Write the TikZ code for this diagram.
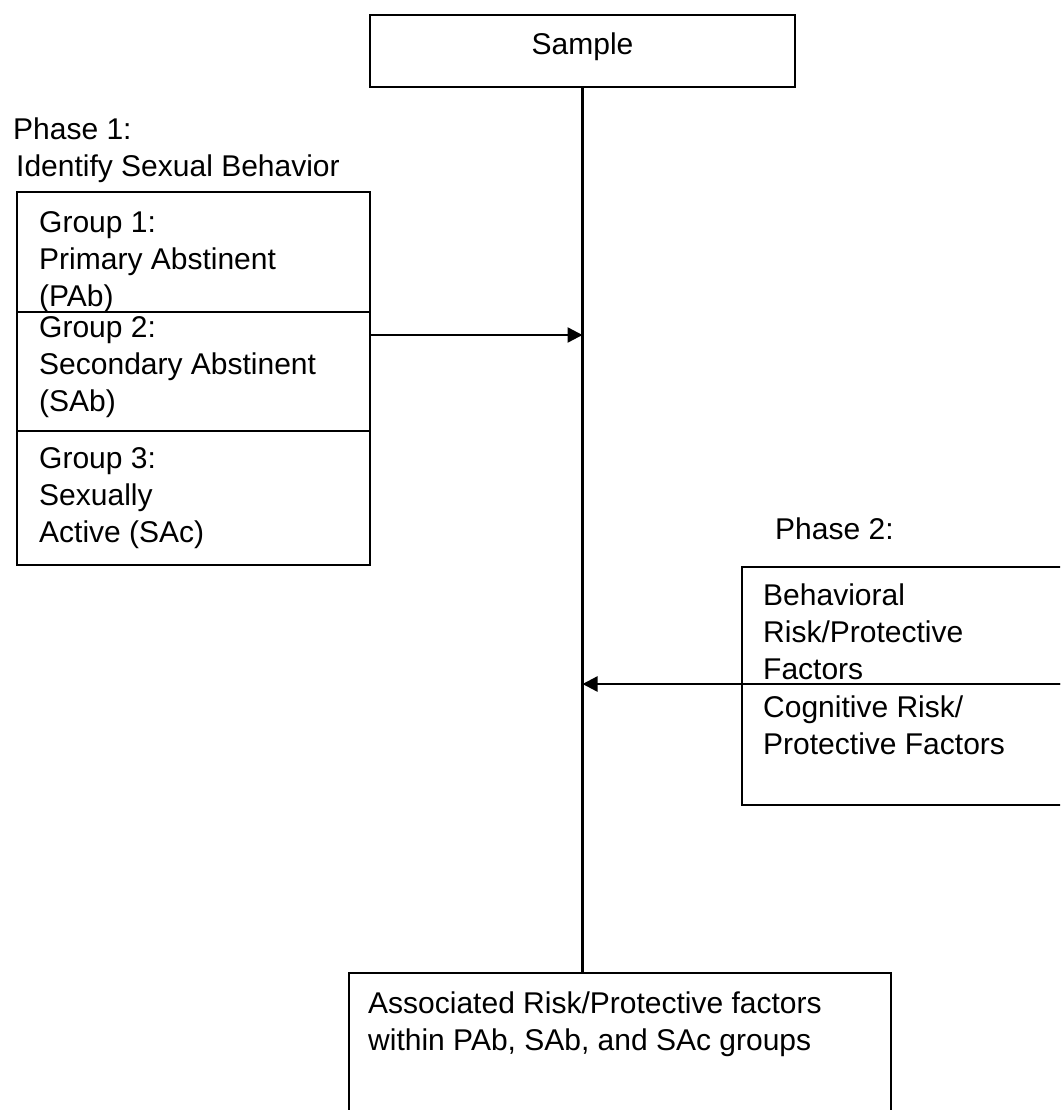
\documentclass[tikz,border=0pt]{standalone}
\usepackage{fontspec}
\setmainfont{Liberation Sans}
\usetikzlibrary{arrows.meta}
\newcommand\stacklines[1]{\begin{tabular}[t]{@{}l@{}}#1\end{tabular}}
\begin{document}
\begin{tikzpicture}[x=1pt,y=-1pt,
  box/.style={draw, line width=2.4pt, rectangle, inner sep=0pt, outer sep=0pt, anchor=north west},
  txt/.style={anchor=base west, inner sep=0pt, font=\fontsize{30}{37}\selectfont},
  conn/.style={line width=2.4pt},
  arr/.style={conn, -{Triangle[length=15pt,width=15pt]}}]
\clip (0,0) rectangle (1060,1110);
\fill[white] (0,0) rectangle (1060,1110);

% Sample
\node[box, minimum width=425, minimum height=72, font=\fontsize{30}{37}\selectfont,
      text height=21.5pt, text depth=14pt] (sample) at (370,15) {Sample};

% Phase 1
\node[txt] (p1) at (13,140) {Phase 1:};
\node[txt] (p1b) at (16,176) {Identify Sexual Behavior};
\node[box, minimum width=353, minimum height=120] (g1) at (17,192) {};
\node[box, minimum width=353, minimum height=119] (g2) at (g1.south west) {};
\node[box, minimum width=353, minimum height=134] (g3) at (g2.south west) {};
\node[txt] (t1) at (39,232) {\stacklines{Group 1:\\Primary Abstinent\\(PAb)}};
\node[txt] (t2) at (39,337) {\stacklines{Group 2:\\Secondary Abstinent\\(SAb)}};
\node[txt] (t3) at (39,468) {\stacklines{Group 3:\\Sexually\\Active (SAc)}};

% Phase 2
\node[txt] (p2) at (775,539) {Phase 2:};
\node[box, minimum width=330, minimum height=117] (b1) at (742,567) {};
\node[box, minimum width=330, minimum height=121] (b2) at (b1.south west) {};
\node[txt] (t4) at (763,605) {\stacklines{Behavioral\\Risk/Protective\\Factors}};
\node[txt] (t5) at (763,717) {\stacklines{Cognitive Risk/\\Protective Factors}};

% Final
\node[box, minimum width=542, minimum height=200] (final) at (349,973) {};
\node[txt] (t6) at (368,1013) {\stacklines{Associated Risk/Protective factors\\within PAb, SAb, and SAc groups}};

% Connectors
\draw[conn] (sample.south) -- (sample.south |- final.north);
\coordinate (a1) at (370,335);
\draw[arr] (a1) -- (a1 -| sample.south);
\draw[arr] (b1.south west) -- (b1.south west -| sample.south);
\end{tikzpicture}
\end{document}
